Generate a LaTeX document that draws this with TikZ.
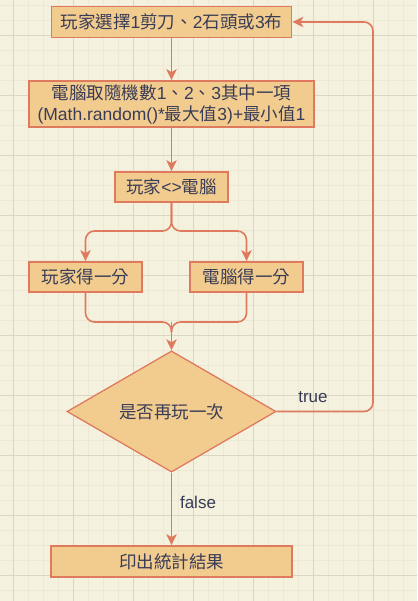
\documentclass[tikz,border=0pt]{standalone}
\usepackage{fontspec}
\setmainfont{Liberation Sans}
\newfontfamily\cjk{Noto Sans CJK TC}
\newcommand\zh[1]{{\cjk #1}}
\usetikzlibrary{shapes.geometric,arrows.meta}

\definecolor{paper}{HTML}{F4F1DE}
\definecolor{gridminor}{HTML}{ECE8D4}
\definecolor{gridmajor}{HTML}{DAD6C3}
\definecolor{boxfill}{HTML}{F2CC8F}
\definecolor{boxline}{HTML}{E07A5F}
\definecolor{ink}{HTML}{393C56}

\tikzset{
  stepbox/.style={rectangle,draw=boxline,fill=boxfill,line width=1.8pt,
    text=ink,font=\fontsize{17.5}{21}\selectfont,align=center,inner sep=0pt},
  askbox/.style={diamond,draw=boxline,fill=boxfill,line width=1.3pt,
    text=ink,font=\fontsize{17.5}{21}\selectfont,inner sep=0pt,
    minimum width=209pt,minimum height=119pt},
  conn/.style={draw=boxline,line width=1.6pt,rounded corners=9pt},
  arr/.style={conn,-{Stealth[length=11pt,width=10.5pt,inset=3pt]}},
  lbl/.style={text=ink,font=\fontsize{17}{20}\selectfont}
}

\begin{document}
\begin{tikzpicture}[x=1pt,y=-1pt]
\useasboundingbox (0,0) rectangle (417,601);
\fill[paper] (0,0) rectangle (417,601);

% grid
\foreach \gx in {13,28,...,413} \draw[gridminor,line width=0.6pt] (\gx,0) -- (\gx,601);
\foreach \gy in {5,20,...,600} \draw[gridminor,line width=0.6pt] (0,\gy) -- (417,\gy);
\foreach \gx in {13,73,...,413} \draw[gridmajor,line width=0.8pt] (\gx,0) -- (\gx,601);
\foreach \gy in {35,95,...,600} \draw[gridmajor,line width=0.8pt] (0,\gy) -- (417,\gy);

% boxes
\node[stepbox,minimum width=240pt,minimum height=31pt] (choose) at (171.5,22)
  {\zh{玩家選擇}1\zh{剪刀、}2\zh{石頭或}3\zh{布}};
\node[stepbox,minimum width=285pt,minimum height=46pt] (rand) at (171.5,104)
  {\zh{電腦取隨機數}1\zh{、}2\zh{、}3\zh{其中一項}\\(Math.random()*\zh{最大值}3)+\zh{最小值}1};
\node[stepbox,minimum width=113pt,minimum height=30pt] (cmp) at (171.5,187)
  {\zh{玩家}<>\zh{電腦}};
\node[stepbox,minimum width=113pt,minimum height=30pt] (pwin) at (85.5,277) {\zh{玩家得一分}};
\node[stepbox,minimum width=113pt,minimum height=30pt] (cwin) at (246.5,277) {\zh{電腦得一分}};
\node[askbox] (again) at (171.5,411.5) {\zh{是否再玩一次}};
\node[stepbox,minimum width=241pt,minimum height=31pt] (stats) at (171.5,561.5) {\zh{印出統計結果}};

\coordinate (fork) at (171.5,231);
\coordinate (join) at (171.5,322);
\coordinate (back) at (373,411.5);

% connectors
\draw[arr] (choose) -- (rand);
\draw[arr] (rand) -- (cmp);
\draw[arr] (cmp.south) -- (fork) -- (fork -| pwin) -- (pwin.north);
\draw[arr] (cmp.south) -- (fork) -- (fork -| cwin) -- (cwin.north);
\draw[conn] (pwin.south) -- (join -| pwin) -- (join) -- ++(0,10);
\draw[conn] (cwin.south) -- (join -| cwin) -- (join) -- ++(0,10);
\draw[arr] (join) -- (again.north);
\draw[arr] (again.east) -- (back) -- (back |- choose) -- (choose.east);
\draw[arr] (again.south) -- (stats.north);

\node[lbl] (truelbl) at (313,397) {true};
\node[lbl] (falselbl) at (198,502) {false};
\end{tikzpicture}
\end{document}
